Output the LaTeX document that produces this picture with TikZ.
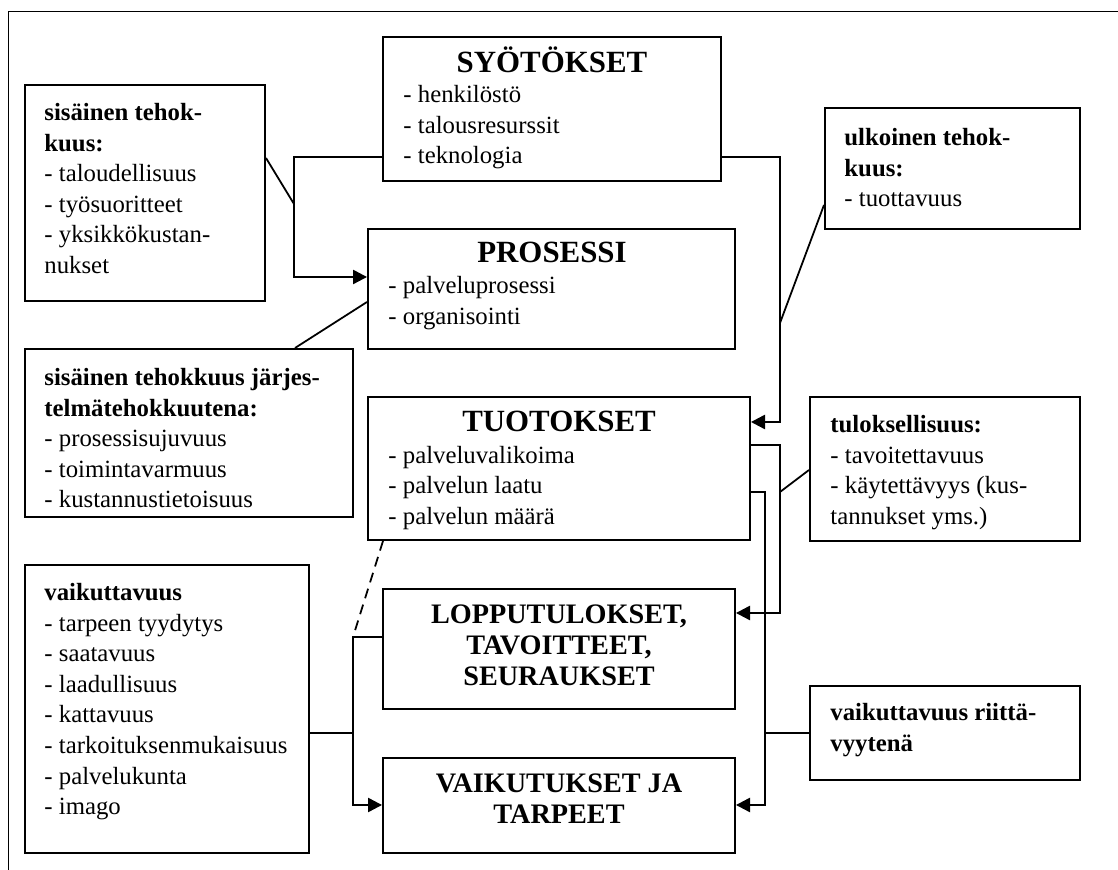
\documentclass[tikz,border=0pt]{standalone}
\usepackage{fontspec}
\setmainfont{Liberation Serif}
\usetikzlibrary{arrows.meta,fit}
\newcommand\fst{\rule{0pt}{10.5pt}}
\newcommand\tst{\rule{0pt}{12pt}}
\tikzset{
  box/.style={draw, line width=0.9pt, inner sep=0pt},
  txt/.style={inner sep=0pt, anchor=north west, align=left, font=\fontsize{11.15pt}{13.77pt}\selectfont},
  ttl/.style={inner sep=0pt, anchor=base, align=center, font=\fontsize{13.9pt}{15pt}\selectfont\bfseries},
  ttlb/.style={inner sep=0pt, anchor=north, align=center, font=\fontsize{12.7pt}{13.95pt}\selectfont\bfseries},
  conn/.style={line width=0.8pt},
  arr/.style={conn, -{Triangle[length=6.3pt,width=6.4pt]}},
  frame/.style={line width=0.8pt}
}
\begin{document}
\begin{tikzpicture}[x=0.45pt, y=-0.45pt]
\useasboundingbox (0,0) rectangle (1118,870);
% outer frame (top and left visible)
\draw[frame] (8.5,870) -- (8.5,11.5) -- (1118,11.5);

% boxes
\node[box, fit={(383,37) (721,181)}] (syo) {};
\node[box, fit={(25,85) (265,301)}] (sis1) {};
\node[box, fit={(825,108) (1080,229)}] (ulk) {};
\node[box, fit={(368,229) (735,349)}] (pro) {};
\node[box, fit={(25,349) (353,517)}] (sis2) {};
\node[box, fit={(368,397) (750,540)}] (tuo) {};
\node[box, fit={(810,397) (1080,541)}] (tul) {};
\node[box, fit={(25,565) (309,853)}] (vaik) {};
\node[box, fit={(383,589) (735,709)}] (lop) {};
\node[box, fit={(383,758) (735,853)}] (vai) {};
\node[box, fit={(810,686) (1080,780)}] (rii) {};

% texts
\node[ttl] (syoT) at (552,72.5) {SYÖTÖKSET};
\node[txt] (syoL) at (403,79) {\fst- henkilöstö\\- talousresurssit\\- teknologia};
\node[txt] (sis1T) at (44,96.7) {\fst\textbf{sisäinen tehok-}\\\textbf{kuus:}\\- taloudellisuus\\- työsuoritteet\\- yksikkökustan-\\nukset};
\node[txt] (ulkT) at (844,121.7) {\fst\textbf{ulkoinen tehok-}\\\textbf{kuus:}\\- tuottavuus};
\node[ttl] (proT) at (552,263) {PROSESSI};
\node[txt] (proL) at (388,270.2) {\fst- palveluprosessi\\- organisointi};
\node[txt] (sis2T) at (44,361.7) {\fst\textbf{sisäinen tehokkuus järjes-}\\\textbf{telmätehokkuutena:}\\- prosessisujuvuus\\- toimintavarmuus\\- kustannustietoisuus};
\node[ttl] (tuoT) at (559,432) {TUOTOKSET};
\node[txt] (tuoL) at (388,439.3) {\fst- palveluvalikoima\\- palvelun laatu\\- palvelun määrä};
\node[txt] (tulT) at (830,408.7) {\fst\textbf{tuloksellisuus:}\\- tavoitettavuus\\- käytettävyys (kus-\\tannukset yms.)};
\node[txt] (vaikT) at (44,576.7) {\fst\textbf{vaikuttavuus}\\- tarpeen tyydytys\\- saatavuus\\- laadullisuus\\- kattavuus\\- tarkoituksenmukaisuus\\- palvelukunta\\- imago};
\node[ttlb] (lopT) at (559,596.3) {\tst LOPPUTULOKSET,\\TAVOITTEET,\\SEURAUKSET};
\node[ttlb] (vaiT) at (559,765.3) {\tst VAIKUTUKSET JA\\TARPEET};
\node[txt] (riiT) at (830,696.7) {\fst\textbf{vaikuttavuus riittä-}\\\textbf{vyytenä}};

% junction coordinates
\coordinate (j1) at (294,204);
\coordinate (j2) at (780,323);
\coordinate (j3) at (780,492);
\coordinate (j4) at (765,733);
\coordinate (j5) at (353,733);
\coordinate (j6) at (353,637);

% connectors
\draw[arr] (syo.west |- 0,157) -| (294,277) -- (pro.west |- 0,277);
\draw[conn] (sis1.east |- 0,158) -- (j1);
\draw[conn] (pro.west |- 0,302) -- (sis2.north -| 295,0);
\draw[arr] (syo.east |- 0,157) -| (780,422) -- (tuo.east |- 0,422);
\draw[conn] (ulk.west |- 0,205) -- (j2);
\draw[arr] (tuo.east |- 0,445) -| (780,613) -- (lop.east |- 0,613);
\draw[arr] (tuo.east |- 0,492) -| (765,805) -- (vai.east |- 0,805);
\draw[conn] (tul.west |- 0,470) -- (j3);
\draw[conn] (rii.west |- 0,733) -- (j4);
\draw[arr] (lop.west |- 0,637) -| (353,805) -- (vai.west |- 0,805);
\draw[conn] (vaik.east |- 0,733) -- (j5);
\draw[conn, dash pattern=on 4.5pt off 3pt] (tuo.south -| 383,0) -- (j6);
\end{tikzpicture}
\end{document}
